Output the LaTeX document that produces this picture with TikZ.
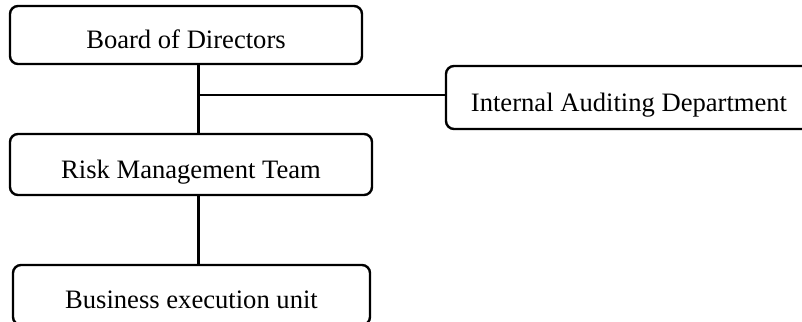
\documentclass[tikz,border=0pt]{standalone}
\usepackage{fontspec}
\setmainfont{Liberation Serif}
\tikzset{
    unitbox/.style={draw, line width=1.2pt, rounded corners=4pt, inner sep=0pt,
        font=\fontsize{13.3}{15}\selectfont, text height=13.5pt, text depth=0pt},
    link/.style={line width=1.2pt}
}
\begin{document}
\begin{tikzpicture}[x=0.5pt, y=-0.5pt]
        \useasboundingbox (0, 0) rectangle (802, 321);
        % Boxes of the organisation chart
        \node[unitbox, minimum width=176pt, minimum height=29pt] (board) at (186, 35) {Board of Directors};
        \node[unitbox, minimum width=183pt, minimum height=31.5pt] (audit) at (629, 97.5) {Internal Auditing Department};
        \node[unitbox, minimum width=181pt, minimum height=30.5pt] (risk) at (191, 164.5) {Risk Management Team};
        \node[unitbox, minimum width=178.5pt, minimum height=30pt] (unit) at (191.5, 295) {Business execution unit};

        % Connecting lines
        \coordinate (spine) at (198.5, 95);
        \draw[link] (board.south -| spine) -- (risk.north -| spine);
        \draw[link] (spine) -- (spine -| audit.west);
        \draw[link] (risk.south -| spine) -- (unit.north -| spine);
    \end{tikzpicture}
\end{document}
